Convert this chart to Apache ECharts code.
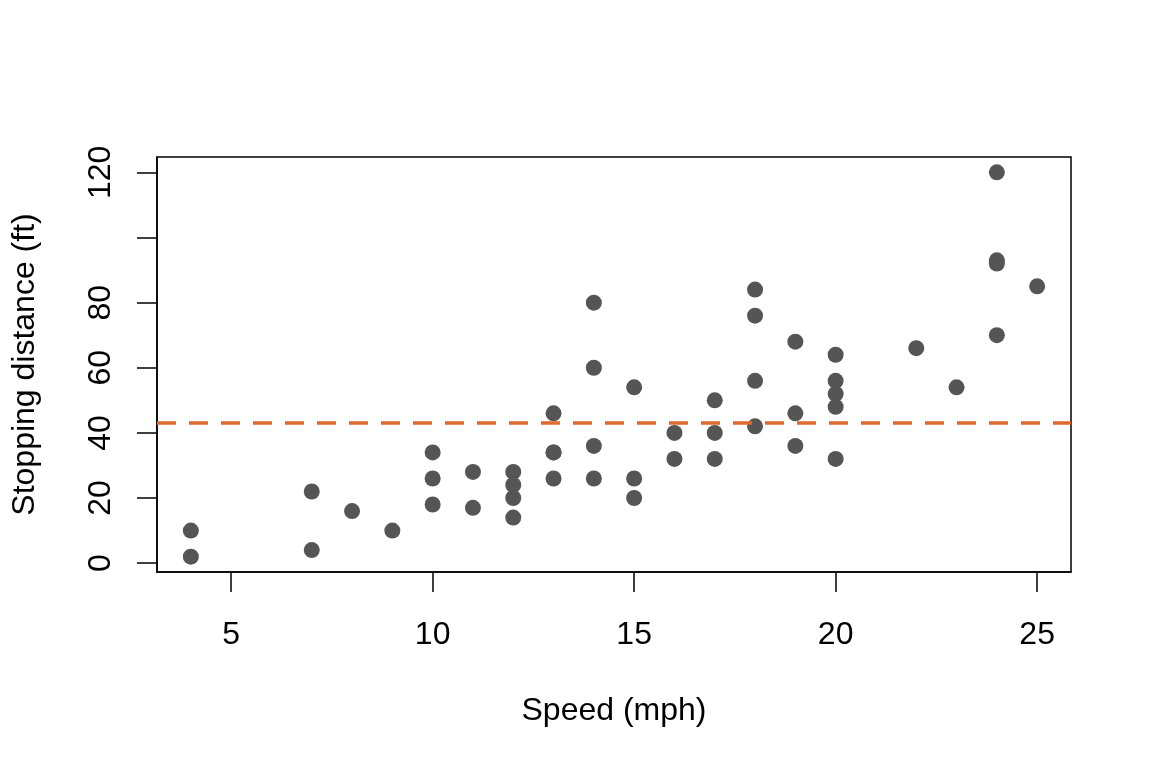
<!DOCTYPE html>
<html>
<head>
<meta charset="utf-8">
<script src="https://cdn.jsdelivr.net/npm/echarts@6/dist/echarts.min.js"></script>
<style>
  html, body { margin: 0; padding: 0; background: #fff; }
  #chart { width: 1152px; height: 768px; }
</style>
</head>
<body>
<div id="chart"></div>
<script>
  // cars data: speed (mph) vs stopping distance (ft)
  var speed = [4, 4, 7, 7, 8, 9, 10, 10, 10, 11, 11, 12, 12, 12, 12, 13, 13, 13, 13, 14, 14, 14, 14, 15, 15, 15, 16, 16, 17, 17, 17, 18, 18, 18, 18, 19, 19, 19, 20, 20, 20, 20, 20, 22, 23, 24, 24, 24, 24, 25];
  var dist = [2, 10, 4, 22, 16, 10, 18, 26, 34, 17, 28, 14, 20, 24, 28, 26, 34, 34, 46, 26, 36, 60, 80, 20, 26, 54, 32, 40, 32, 40, 50, 42, 56, 76, 84, 36, 46, 68, 32, 48, 52, 56, 64, 66, 54, 70, 92, 93, 120, 85];
  var meanDist = 43; // dashed reference line
  var xTicks = [5, 10, 15, 20, 25];
  var yTicks = [0, 20, 40, 60, 80, 100, 120];
  var yLabels = [0, 20, 40, 60, 80, 120];

  var points = speed.map(function (s, i) {
    return [s, dist[i]];
  });

  var font = '"Liberation Sans", Arial, Helvetica, sans-serif';

  var myChart = echarts.init(document.getElementById('chart'));

  var option = {
    backgroundColor: '#fff',
    animation: false,
    grid: {
      left: 157,
      right: 81,
      top: 157,
      bottom: 196,
      show: true,
      borderColor: '#000',
      borderWidth: 1.5,
      backgroundColor: 'transparent'
    },
    xAxis: {
      type: 'value',
      min: 3.16,
      max: 25.84,
      name: 'Speed (mph)',
      nameLocation: 'middle',
      nameGap: 123,
      nameTextStyle: { fontSize: 32, color: '#000', fontFamily: font },
      axisLine: { show: true, onZero: false, lineStyle: { color: '#000', width: 1.5 } },
      axisTick: {
        show: true,
        length: 20,
        customValues: xTicks,
        lineStyle: { color: '#000', width: 1.5 }
      },
      axisLabel: {
        customValues: xTicks,
        margin: 47,
        fontSize: 32,
        color: '#000',
        fontFamily: font
      },
      splitLine: { show: false }
    },
    yAxis: {
      type: 'value',
      min: -2.72,
      max: 124.72,
      name: 'Stopping distance (ft)',
      nameLocation: 'middle',
      nameGap: 116,
      nameTextStyle: { fontSize: 32, color: '#000', fontFamily: font },
      axisLine: { show: true, onZero: false, lineStyle: { color: '#000', width: 1.5 } },
      axisTick: {
        show: true,
        length: 20,
        customValues: yTicks,
        lineStyle: { color: '#000', width: 1.5 }
      },
      axisLabel: {
        customValues: yLabels,
        rotate: 90,
        margin: 40,
        fontSize: 32,
        color: '#000',
        fontFamily: font
      },
      splitLine: { show: false }
    },
    series: [
      {
        type: 'scatter',
        data: points,
        symbol: 'circle',
        symbolSize: 16,
        itemStyle: { color: '#555555', opacity: 1 },
        markLine: {
          silent: true,
          symbol: ['none', 'none'],
          label: { show: false },
          lineStyle: { color: '#E06A2B', width: 3.5, type: [19, 13], opacity: 1 },
          data: [{ yAxis: meanDist }]
        }
      }
    ]
  };

  option && myChart.setOption(option);
</script>
</body>
</html>
